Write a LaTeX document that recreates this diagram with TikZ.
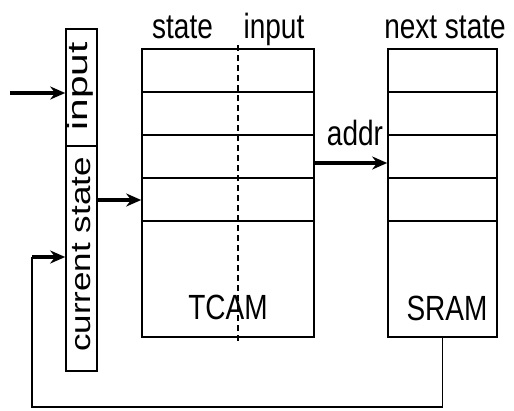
\documentclass[tikz,border=0pt]{standalone}
\usepackage{fontspec}
\setmainfont{Liberation Sans}
\usepackage{graphicx}
\usetikzlibrary{arrows.meta}
\tikzset{
  memblock/.style={rectangle, draw=black, line width=1.6pt, inner sep=0pt},
  reg/.style={rectangle, draw=black, line width=1.6pt, inner sep=0pt, minimum width=31pt},
  lbl/.style={inner sep=0pt, font=\fontsize{28}{30}\selectfont},
  fatarrow/.style={line width=4pt, -{Stealth[length=15pt,width=13pt]}},
  wire/.style={line width=1.6pt}
}
\newcommand{\tallt}[1]{\scalebox{1}[1.25]{#1}}

\begin{document}
\begin{tikzpicture}[x=1pt, y=-1pt]
        \useasboundingbox (0,0) rectangle (514,410);
        % register holding input and current state
        \node (inreg) [reg, minimum height=117pt] at (81.5,87.5) {};
        \node (csreg) [reg, minimum height=225pt] at (81.5,258.5) {};
        \node (inlbl) [lbl, rotate=90] at (80,86.5) {\scalebox{1.45}[1]{input}};
        \node (cslbl) [lbl, rotate=90] at (82,254.5) {\scalebox{1.25}[1]{current state}};
        % TCAM and SRAM tables
        \node (tcam) [memblock, minimum width=172pt, minimum height=288pt] at (228,193) {};
        \node (sram) [memblock, minimum width=109pt, minimum height=288pt] at (442.5,193) {};
        \foreach \y in {92,135,178,221} {
            \draw [wire] (142,\y) -- (314,\y);
            \draw [wire] (388,\y) -- (497,\y);
        }
        \draw [wire, line width=2pt, dash pattern=on 6pt off 4pt] (238,45) -- (238,342);
        \node (tcamlbl) [lbl] at (228,307) {\tallt{TCAM}};
        \node (sramlbl) [lbl] at (447,308) {\tallt{SRAM}};
        % column headings
        \node (hstate) [lbl, anchor=base] at (182.5,38) {\tallt{state}};
        \node (hinput) [lbl, anchor=base] at (274,38) {\tallt{input}};
        \node (hnext) [lbl, anchor=base] at (445,38) {\tallt{next state}};
        % connections
        \coordinate (src) at (10,93);
        \coordinate (fb) at (32,257);
        \draw [fatarrow] (src) -- (src -| inreg.west);
        \draw [fatarrow] (csreg.east |- 0,200) -- (tcam.west |- 0,200);
        \draw [fatarrow] (tcam.east |- 0,163) -- (sram.west |- 0,163);
        \node (addr) [lbl, anchor=base] at (355,145) {\tallt{addr}};
        \draw [wire] (sram.south) -- (sram.south |- 0,407) -- (fb |- 0,407) -- (fb);
        \draw [fatarrow] (fb) -- (fb -| csreg.west);
    \end{tikzpicture}
\end{document}
